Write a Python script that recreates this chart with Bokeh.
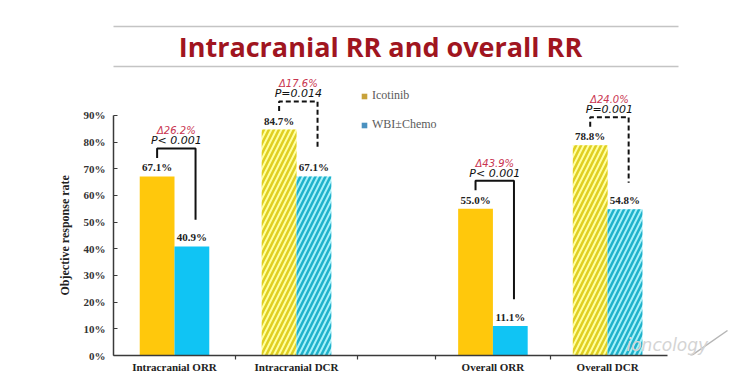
import math
from bokeh.plotting import figure
from bokeh.models import (ColumnDataSource, FixedTicker, PrintfTickFormatter, Label,
                          Arrow, Range1d, Legend, LegendItem, Title)
from bokeh.core.properties import value
from bokeh.embed import file_html
from bokeh.resources import INLINE

# ---------------- data ----------------
categories = ["Intracranial ORR", "Intracranial DCR", "Overall ORR", "Overall DCR"]
icotinib = [67.1, 84.7, 55.0, 78.8]
wbi_chemo = [40.9, 67.1, 11.1, 54.8]
delta_labels = ["Δ26.2%", "Δ17.6%", "Δ43.9%", "Δ24.0%"]
p_labels = ["P< 0.001", "P=0.014", "P< 0.001", "P=0.001"]
y_ticks = [0, 10, 20, 30, 40, 50, 60, 70, 80, 90]
series_names = ["Icotinib", "WBI±Chemo"]
title_text = "Intracranial RR and overall RR"
y_label = "Objective response rate"
watermark = "ioncology"

# ---------------- layout ----------------
group_x = [0.5, 1.5, 3.11, 4.05]
group_bounds = [1.0, 2.0, 2.64, 3.58]
x_axis_end = 4.54
bar_w = 0.285
off = bar_w / 2

W, H = 740, 379
LEFT, BOTTOM = 113, 24
PX_X = 122.0
PX_Y = 2.667
X_END = (W - LEFT) / PX_X
Y_END = (H - BOTTOM) / PX_Y


def img(ix, iy):
    """image pixel -> data coordinates (for decorations only)"""
    return (ix - LEFT) / PX_X, (H - BOTTOM - iy) / PX_Y


p = figure(width=W, height=H, x_range=Range1d(0, X_END), y_range=Range1d(0, Y_END),
           toolbar_location=None, output_backend="svg",
           min_border_left=LEFT, min_border_right=0, min_border_top=0,
           min_border_bottom=BOTTOM)
p.outline_line_color = None
p.background_fill_color = "white"
p.border_fill_color = "white"
p.xgrid.visible = False
p.ygrid.visible = False

SERIF = "Liberation Serif"
AXIS_COLOR = "#3a3a3a"

# y axis
ya = p.yaxis[0]
ya.ticker = FixedTicker(ticks=y_ticks)
ya.formatter = PrintfTickFormatter(format="%d%%")
ya.bounds = (0, 90)
ya.major_tick_in = 4
ya.major_tick_out = 0
ya.minor_tick_line_color = None
ya.major_label_standoff = 8
ya.major_label_text_font = SERIF
ya.major_label_text_font_style = "bold"
ya.major_label_text_font_size = "11px"
ya.major_label_text_color = "#333333"
ya.axis_line_color = AXIS_COLOR
ya.axis_line_width = 1.5
ya.major_tick_line_color = AXIS_COLOR
ya.major_tick_line_width = 1.2

# y axis title (placed beside the 0-90% scale)
p.add_layout(Title(text=y_label, align="left", offset=60, standoff=17,
                   text_font=SERIF, text_font_style="bold", text_font_size="12px",
                   text_color="#222222"), "left")

# x axis
xa = p.xaxis[0]
xa.ticker = FixedTicker(ticks=group_x, minor_ticks=group_bounds)
xa.major_label_overrides = {gx: c for gx, c in zip(group_x, categories)}
xa.bounds = (0, x_axis_end)
xa.major_tick_in = 0
xa.major_tick_out = 0
xa.minor_tick_in = 0
xa.minor_tick_out = 4
xa.minor_tick_line_color = AXIS_COLOR
xa.minor_tick_line_width = 1.2
xa.major_label_standoff = 1
xa.major_label_text_font = SERIF
xa.major_label_text_font_style = "bold"
xa.major_label_text_font_size = "11px"
xa.major_label_text_color = "#222222"
xa.axis_line_color = AXIS_COLOR
xa.axis_line_width = 1.5

# bars
is_dcr = ["DCR" in c for c in categories]
src = ColumnDataSource(dict(
    xi=[g - off for g in group_x],
    xw=[g + off for g in group_x],
    ico=icotinib,
    wbi=wbi_chemo,
    ico_fill=["#FFFFA0" if d else "#FFC80C" for d in is_dcr],
    wbi_fill=["#A6F1F9" if d else "#10C4F4" for d in is_dcr],
    hatch=["/" if d else " " for d in is_dcr],
    ico_lab=[f"{v:.1f}%" for v in icotinib],
    wbi_lab=[f"{v:.1f}%" for v in wbi_chemo],
    ico_lab_y=[v + 3.4 for v in icotinib],
    wbi_lab_y=[v + 3.4 for v in wbi_chemo],
))

p.vbar(x="xi", top="ico", width=bar_w, bottom=0, source=src, fill_color="ico_fill",
       line_color=None, hatch_pattern="hatch", hatch_color="#E0CF22",
       hatch_scale=10, hatch_weight=2.5)
p.vbar(x="xw", top="wbi", width=bar_w, bottom=0, source=src, fill_color="wbi_fill",
       line_color=None, hatch_pattern="hatch", hatch_color="#1FB2CB",
       hatch_scale=10, hatch_weight=2.5)

for col_x, col_y, col_t in (("xi", "ico_lab_y", "ico_lab"), ("xw", "wbi_lab_y", "wbi_lab")):
    p.text(x=col_x, y=col_y, text=col_t, source=src, text_font=value(SERIF),
           text_font_style="bold", text_font_size="11px", text_align="center",
           text_baseline="middle", text_color="#222222")

# significance brackets
solid = dict(xs=[], ys=[])
dashed = dict(xs=[], ys=[])
ann = dict(x=[], yd=[], yp=[], d=[], pv=[])
for gx, a, b, dl, pl, d in zip(group_x, icotinib, wbi_chemo, delta_labels, p_labels, is_dcr):
    top = max(a, b) + 10.5
    xl, xr = gx - off, gx + off + 0.03
    tgt = dashed if d else solid
    tgt["xs"].append([xl, xl, xr, xr])
    tgt["ys"].append([a + 7, top, top, b + 10])
    ann["x"].append((xl + xr) / 2)
    ann["yd"].append(top + 6.6)
    ann["yp"].append(top + 2.9)
    ann["d"].append(dl)
    ann["pv"].append(pl)

p.multi_line(xs=solid["xs"], ys=solid["ys"], line_color="#111111", line_width=2)
p.multi_line(xs=dashed["xs"], ys=dashed["ys"], line_color="#111111", line_width=2,
             line_dash="5 3")
asrc = ColumnDataSource(ann)
p.text(x="x", y="yd", text="d", source=asrc, text_font=value("DejaVu Sans"),
       text_font_style="italic", text_font_size="10px", text_align="center",
       text_baseline="middle", text_color="#C9344F")
p.text(x="x", y="yp", text="pv", source=asrc, text_font=value("DejaVu Sans"),
       text_font_style="italic", text_font_size="11px", text_align="center",
       text_baseline="middle", text_color="#111111")

# legend
nan = float("nan")
r_ico = p.scatter(x=[nan], y=[nan], marker="square", size=6, fill_color="#C8A23A",
                  line_color=None)
r_wbi = p.scatter(x=[nan], y=[nan], marker="square", size=6, fill_color="#4A91C0",
                  line_color=None)
legend = Legend(items=[LegendItem(label=series_names[0], renderers=[r_ico]),
                       LegendItem(label=series_names[1], renderers=[r_wbi])],
                location=(244, 223), orientation="vertical",
                glyph_width=14, glyph_height=14, label_height=14, spacing=14,
                label_standoff=1, padding=0, margin=0,
                border_line_color=None, background_fill_alpha=0,
                label_text_font=SERIF, label_text_font_size="12px",
                label_text_color="#5a5a5a")
p.add_layout(legend)

# title and its rules
tx, ty = img(380, 46)
p.add_layout(Label(x=tx, y=ty, text=title_text, text_align="center", text_baseline="middle",
                   text_font="Open Sans", text_font_style="bold", text_font_size="27px",
                   text_color="#A0151F"))
for iy in (26, 66):
    (x0, y0), (x1, y1) = img(73, iy), img(678, iy)
    p.add_layout(Arrow(end=None, x_start=x0, y_start=y0, x_end=x1, y_end=y1,
                       line_color="#c4c4c4", line_width=1.5))

# decorative line, bottom right
(x0, y0), (x1, y1) = img(668, 371), img(727, 330)
p.add_layout(Arrow(end=None, x_start=x0, y_start=y0, x_end=x1, y_end=y1,
                   line_color="#b5b5b5", line_width=1.5))

# watermark
wx, wy = img(626, 344)
p.add_layout(Label(x=wx, y=wy, text=watermark, text_align="left", text_baseline="middle",
                   text_font="DejaVu Sans", text_font_style="italic", text_font_size="17px",
                   text_color="#d4d4d4"))

open("out.html", "w").write(file_html(p, INLINE))
